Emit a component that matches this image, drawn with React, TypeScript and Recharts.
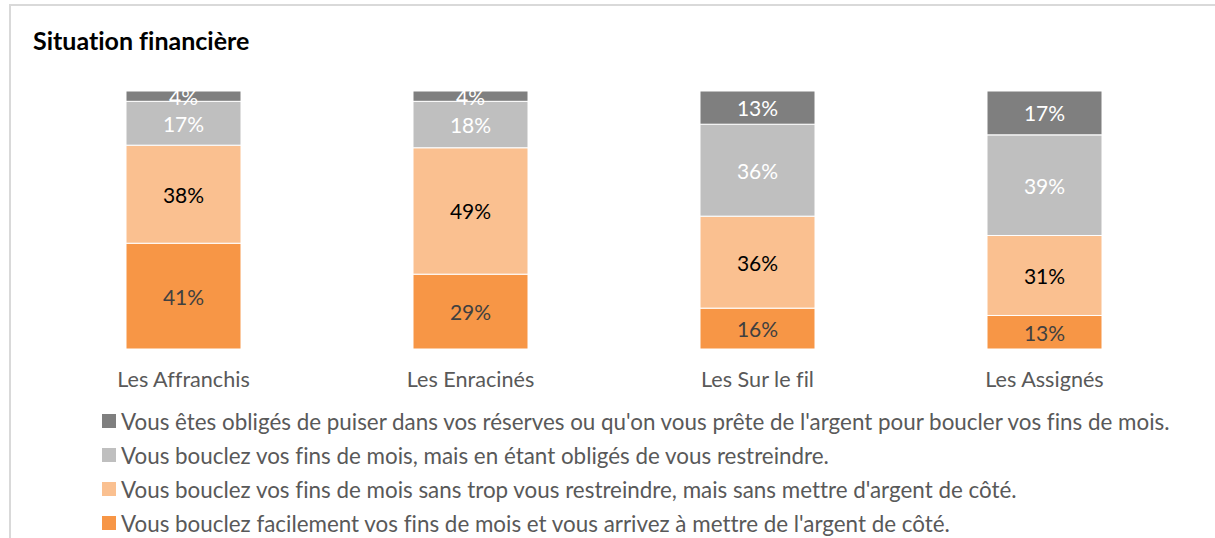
import React from 'react';
import { BarChart, Bar, XAxis, YAxis, Legend, LabelList } from 'recharts';

const categories = ['Les Affranchis', 'Les Enracinés', 'Les Sur le fil', 'Les Assignés'];
const facilement = [41, 29, 16, 13];
const sansTrop = [38, 49, 36, 31];
const restreindre = [17, 18, 36, 39];
const puiser = [4, 4, 13, 17];

const seriesKeys = ['facilement', 'sansTrop', 'restreindre', 'puiser'];
const seriesValues: Record<string, number[]> = { facilement, sansTrop, restreindre, puiser };
const seriesNames: Record<string, string> = {
  puiser: "Vous êtes obligés de puiser dans vos réserves ou qu'on vous prête de l'argent pour boucler vos fins de mois.",
  restreindre: 'Vous bouclez vos fins de mois, mais en étant obligés de vous restreindre.',
  sansTrop: "Vous bouclez vos fins de mois sans trop vous restreindre, mais sans mettre d'argent de côté.",
  facilement: "Vous bouclez facilement vos fins de mois et vous arrivez à mettre de l'argent de côté.",
};
const seriesColors: Record<string, string> = {
  facilement: '#f79646',
  sansTrop: '#fac090',
  restreindre: '#bfbfbf',
  puiser: '#7f7f7f',
};
const labelColors: Record<string, string> = {
  facilement: '#404040',
  sansTrop: '#000000',
  restreindre: '#ffffff',
  puiser: '#ffffff',
};
const legendOrder = ['puiser', 'restreindre', 'sansTrop', 'facilement'];

const data = categories.map((name, i) => ({
  name,
  facilement: facilement[i],
  sansTrop: sansTrop[i],
  restreindre: restreindre[i],
  puiser: puiser[i],
}));

const FONT = 'Lato, "Open Sans", sans-serif';

const makeLabel = (key: string) => (props: any) => {
  const { x, y, width, height, index } = props;
  const v = seriesValues[key][index];
  return (
    <text
      x={Number(x) + Number(width) / 2}
      y={Number(y) + Number(height) / 2}
      textAnchor="middle"
      dominantBaseline="central"
      fill={labelColors[key]}
      fontSize={21}
      fontFamily={FONT}
    >
      {v}%
    </text>
  );
};

const LegendContent = () => (
  <div style={{ fontFamily: FONT, fontVariantLigatures: 'none' }}>
    {legendOrder.map((k) => (
      <div key={k} style={{ display: 'flex', alignItems: 'center', height: 34 }}>
        <span style={{ width: 14, height: 14, background: seriesColors[k], display: 'inline-block', marginRight: 5, flex: 'none' }} />
        <span style={{ fontSize: 22.4, color: '#595959', whiteSpace: 'nowrap' }}>{seriesNames[k]}</span>
      </div>
    ))}
  </div>
);

export default function App() {
  return (
    <div style={{ position: 'fixed', left: 0, top: 0, width: 1215, height: 538, background: '#fff', overflow: 'hidden', fontVariantLigatures: 'none' }}>
      <div
        style={{
          position: 'absolute',
          left: 9,
          top: 4,
          width: 1220,
          height: 540,
          borderLeft: '2px solid #d9d9d9',
          borderTop: '2px solid #d9d9d9',
        }}
      />
      <div
        style={{
          position: 'absolute',
          left: 33,
          top: 24,
          fontFamily: FONT,
          fontWeight: 700,
          fontSize: 25,
          color: '#000',
          lineHeight: '33px',
          fontVariantLigatures: 'none',
        }}
      >
        Situation financière
      </div>
      <div style={{ position: 'absolute', left: 0, top: 0 }}>
        <BarChart
          width={1215}
          height={538}
          data={data}
          stackOffset="expand"
          margin={{ top: 91, right: 27, left: 40, bottom: 149 }}
          barSize={115}
        >
          <XAxis
            dataKey="name"
            axisLine={false}
            tickLine={false}
            tickSize={0}
            tickMargin={23}
            height={40}
            interval={0}
            tick={{ fill: '#595959', fontSize: 21.6, fontFamily: FONT }}
          />
          <YAxis hide domain={[0, 1]} />
          {seriesKeys.map((k) => (
            <Bar
              key={k}
              dataKey={k}
              stackId="a"
              fill={seriesColors[k]}
              stroke="#ffffff"
              strokeWidth={1}
              isAnimationActive={false}
              name={seriesNames[k]}
            >
              <LabelList dataKey={k} content={makeLabel(k)} />
            </Bar>
          ))}
          <Legend
            layout="vertical"
            align="center"
            verticalAlign="middle"
            content={<LegendContent />}
            wrapperStyle={{ position: 'absolute', top: 404, left: 102, width: 1110 }}
          />
        </BarChart>
      </div>
    </div>
  );
}
